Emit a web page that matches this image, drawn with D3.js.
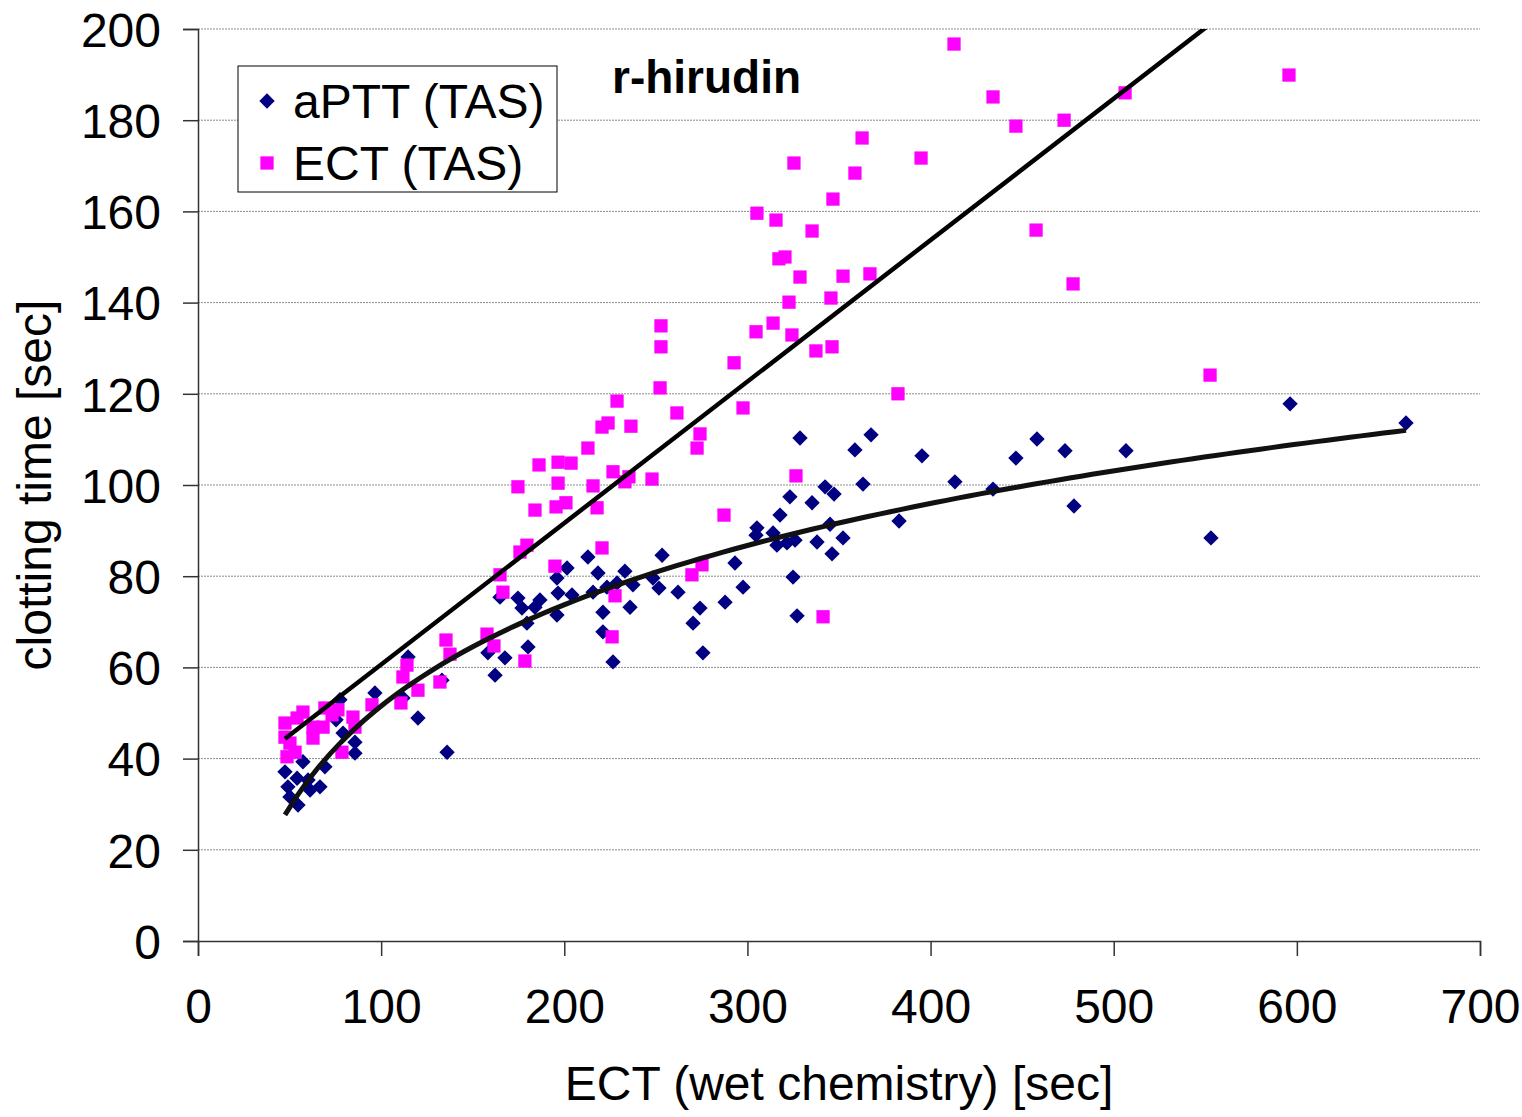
<!DOCTYPE html>
<html>
<head>
<meta charset="utf-8">
<script src="https://cdn.jsdelivr.net/npm/d3@7"></script>
<style>
  body { margin: 0; background: #fff; }
  svg { display: block; font-family: Arial, "Liberation Sans", sans-serif; }
</style>
</head>
<body>
<svg id="chart"></svg>
<script>
// chart values
const title = "r-hirudin";
const xTicks = [0, 100, 200, 300, 400, 500, 600, 700];
const yTicks = [0, 20, 40, 60, 80, 100, 120, 140, 160, 180, 200];

// aPTT (TAS): [ECT wet chemistry, clotting time]
const aptt = [
  [596.3,117.8],[659.6,113.6],[553.1,88.4],[328.7,110.3],[367.5,111.0],[358.7,107.7],
  [395.3,106.4],[458.1,110.1],[446.6,105.9],[473.4,107.5],[506.7,107.5],[363.1,100.2],
  [413.3,100.7],[342.4,99.6],[347.3,98.0],[335.3,96.1],[434.1,99.1],[478.3,95.4],
  [345.1,91.4],[382.8,92.1],[338.0,87.5],[352.2,88.4],[346.2,84.9],[323.2,97.4],
  [317.8,93.4],[305.2,90.6],[304.7,89.0],[314.0,89.5],[316.1,86.8],[321.6,87.3],
  [326.0,87.9],[324.9,79.8],[327.1,71.3],[293.2,82.9],[297.6,77.6],[287.8,74.3],
  [274.1,73.0],[270.3,69.7],[275.7,63.2],[262.1,76.5],[253.4,84.6],[248.4,79.6],
  [251.7,77.4],[237.5,78.1],[235.9,73.2],[233.1,81.1],[228.8,78.5],[223.3,77.6],
  [226.6,61.2],[221.1,72.1],[221.1,67.8],[218.4,80.7],[215.7,76.5],[212.9,84.2],
  [204.2,75.9],[201.5,81.8],[196.0,79.6],[196.6,76.3],[196.0,71.5],[186.7,74.8],
  [184.0,73.2],[179.6,69.7],[176.9,73.0],[174.7,75.2],[164.9,75.4],[180.2,64.5],
  [167.6,62.1],[158.3,63.2],[162.2,58.3],[136.0,41.4],[133.2,57.2],[120.1,48.9],
  [114.7,62.3],[111.9,53.3],[96.6,54.4],[77.5,52.9],[79.2,45.6],[85.7,43.6],
  [85.7,41.2],[69.3,38.2],[57.3,39.3],[47.5,37.1],[49.1,33.8],[54.1,35.7],
  [60.1,35.3],[66.6,33.8],[50.2,31.6],[54.6,29.8],[61.2,33.1],[75.4,48.5]
];

// ECT (TAS): [ECT wet chemistry, clotting time]
const ect = [
  [412.8,196.7],[595.7,189.9],[506.2,186.0],[434.1,185.1],[472.9,180.0],[446.6,178.7],
  [362.6,176.1],[325.4,170.6],[394.8,171.7],[358.7,168.4],[305.2,159.6],[315.6,158.1],
  [346.7,162.7],[335.3,155.7],[317.2,149.6],[320.5,150.0],[457.6,155.9],[328.7,145.6],
  [352.2,145.8],[366.9,146.3],[322.7,140.1],[345.6,141.0],[477.8,144.1],[314.0,135.5],
  [304.7,133.6],[252.8,134.9],[324.3,132.9],[252.8,130.3],[337.4,129.4],[346.2,130.3],
  [292.7,126.8],[252.3,121.3],[382.2,120.0],[297.6,116.9],[552.6,124.1],[228.8,118.4],
  [261.5,115.8],[220.6,112.7],[223.9,113.6],[236.4,112.9],[274.1,111.2],[272.5,108.1],
  [212.9,108.1],[226.6,102.9],[186.2,104.4],[196.6,105.0],[203.7,104.8],[235.3,101.8],
  [233.1,100.7],[247.9,101.3],[326.5,102.0],[174.7,99.6],[196.6,100.4],[215.7,99.8],
  [200.9,96.1],[195.5,95.2],[184.0,94.5],[217.9,95.0],[287.2,93.4],[179.6,86.8],
  [175.8,85.3],[220.6,86.2],[194.9,82.2],[164.9,80.3],[269.7,80.3],[275.2,82.5],
  [166.5,76.5],[227.7,75.7],[341.3,71.1],[226.1,66.7],[135.4,66.0],[161.6,64.7],
  [157.8,67.3],[137.6,62.9],[178.5,61.4],[114.1,60.5],[120.1,55.0],[132.1,56.8],
  [111.9,57.9],[110.8,52.2],[95.0,51.8],[47.5,47.8],[54.1,48.9],[57.3,50.2],
  [47.5,44.7],[50.2,43.4],[48.6,40.4],[53.0,41.4],[62.8,44.5],[62.8,46.9],
  [69.3,51.1],[73.2,49.6],[76.4,50.7],[68.3,46.9],[84.6,49.1],[85.7,46.9],[78.6,41.4]
];

const W = 1522, H = 1117;
const m = { left: 198, right: 42, top: 29, bottom: 176 };
const fs = 48;

const svg = d3.select("#chart").attr("width", W).attr("height", H);

const x = d3.scaleLinear().domain([0, 700]).range([m.left, W - m.right]);
const y = d3.scaleLinear().domain([0, 200]).range([H - m.bottom, m.top]);

// gridlines
svg.append("g")
  .selectAll("line")
  .data(yTicks.filter(d => d > 0))
  .join("line")
  .attr("x1", x(0)).attr("x2", x(700))
  .attr("y1", d => y(d)).attr("y2", d => y(d))
  .attr("stroke", "#8c8c8c")
  .attr("stroke-width", 1)
  .attr("stroke-dasharray", "2,1");

// axes
const xAxis = svg.append("g")
  .attr("transform", `translate(0,${y(0)})`)
  .call(d3.axisBottom(x).tickValues(xTicks).tickSize(15).tickPadding(33).tickFormat(d3.format("d")));
const yAxis = svg.append("g")
  .attr("transform", `translate(${x(0)},0)`)
  .call(d3.axisLeft(y).tickValues(yTicks).tickSize(15).tickPadding(22).tickFormat(d3.format("d")));

[xAxis, yAxis].forEach(g => {
  g.select(".domain").attr("stroke", "#333").attr("stroke-width", 1.5);
  g.selectAll(".tick line").attr("stroke", "#333").attr("stroke-width", 1.5);
  g.selectAll(".tick text").attr("fill", "#000").attr("font-size", fs)
    .attr("font-family", "Arial, 'Liberation Sans', sans-serif");
});
yAxis.selectAll(".tick text").attr("dy", "0.36em");

// markers
const diamond = d3.symbol().type(d3.symbolSquare).size(118)();
const square = d3.symbol().type(d3.symbolSquare).size(176)();

svg.append("g")
  .selectAll("path")
  .data(aptt)
  .join("path")
  .attr("d", diamond)
  .attr("transform", d => `translate(${x(d[0])},${y(d[1])}) rotate(45)`)
  .attr("fill", "#000080");

svg.append("g")
  .selectAll("path")
  .data(ect)
  .join("path")
  .attr("d", square)
  .attr("transform", d => `translate(${x(d[0])},${y(d[1])})`)
  .attr("fill", "#ff00ff");

// trendlines fitted to the read data
function linFit(data) {
  const mx = d3.mean(data, d => d[0]), my = d3.mean(data, d => d[1]);
  const sxy = d3.sum(data, d => (d[0] - mx) * (d[1] - my));
  const sxx = d3.sum(data, d => (d[0] - mx) ** 2);
  const b = sxy / sxx;
  return v => my + b * (v - mx);
}
function logFit(data) {
  const pts = data.map(d => [Math.log(d[0]), d[1]]);
  const f = linFit(pts);
  return v => f(Math.log(v));
}

svg.append("clipPath").attr("id", "plotclip")
  .append("rect")
  .attr("x", x(0)).attr("y", y(200))
  .attr("width", x(700) - x(0)).attr("height", y(0) - y(200));

const line = d3.line().x(d => x(d[0])).y(d => y(d[1]));

const ectFit = linFit(ect);
const ectExt = d3.extent(ect, d => d[0]);
svg.append("path")
  .attr("clip-path", "url(#plotclip)")
  .attr("d", line([[ectExt[0], ectFit(ectExt[0])], [ectExt[1], ectFit(ectExt[1])]]))
  .attr("fill", "none")
  .attr("stroke", "#000")
  .attr("stroke-width", 4.5);

const apttFit = logFit(aptt);
const apttExt = d3.extent(aptt, d => d[0]);
const curvePts = d3.range(0, 101).map(i => {
  const v = apttExt[0] + (apttExt[1] - apttExt[0]) * i / 100;
  return [v, apttFit(v)];
});
svg.append("path")
  .attr("d", line(curvePts))
  .attr("fill", "none")
  .attr("stroke", "#111")
  .attr("stroke-width", 5);

// title
svg.append("text")
  .attr("x", 612).attr("y", 93)
  .attr("font-size", 46).attr("font-weight", "bold")
  .text(title);

// legend
const lg = svg.append("g").attr("transform", "translate(238,66)");
lg.append("rect")
  .attr("width", 319).attr("height", 126)
  .attr("fill", "#fff").attr("stroke", "#000").attr("stroke-width", 1);
const legendItems = [
  { label: "aPTT (TAS)", shape: diamond, rot: 45, color: "#000080" },
  { label: "ECT (TAS)", shape: square, rot: 0, color: "#ff00ff" }
];
legendItems.forEach((it, i) => {
  const cy = 35 + i * 62;
  lg.append("path")
    .attr("d", it.shape)
    .attr("transform", `translate(29,${cy}) rotate(${it.rot})`)
    .attr("fill", it.color);
  lg.append("text")
    .attr("x", 55).attr("y", cy)
    .attr("dy", "0.36em")
    .attr("font-size", fs)
    .text(it.label);
});

// axis titles
svg.append("text")
  .attr("x", (x(0) + x(700)) / 2).attr("y", 1100)
  .attr("text-anchor", "middle")
  .attr("font-size", fs)
  .text("ECT (wet chemistry) [sec]");

svg.append("text")
  .attr("transform", `translate(51,${(y(0) + y(200)) / 2}) rotate(-90)`)
  .attr("text-anchor", "middle")
  .attr("font-size", fs)
  .text("clotting time [sec]");
</script>
</body>
</html>
